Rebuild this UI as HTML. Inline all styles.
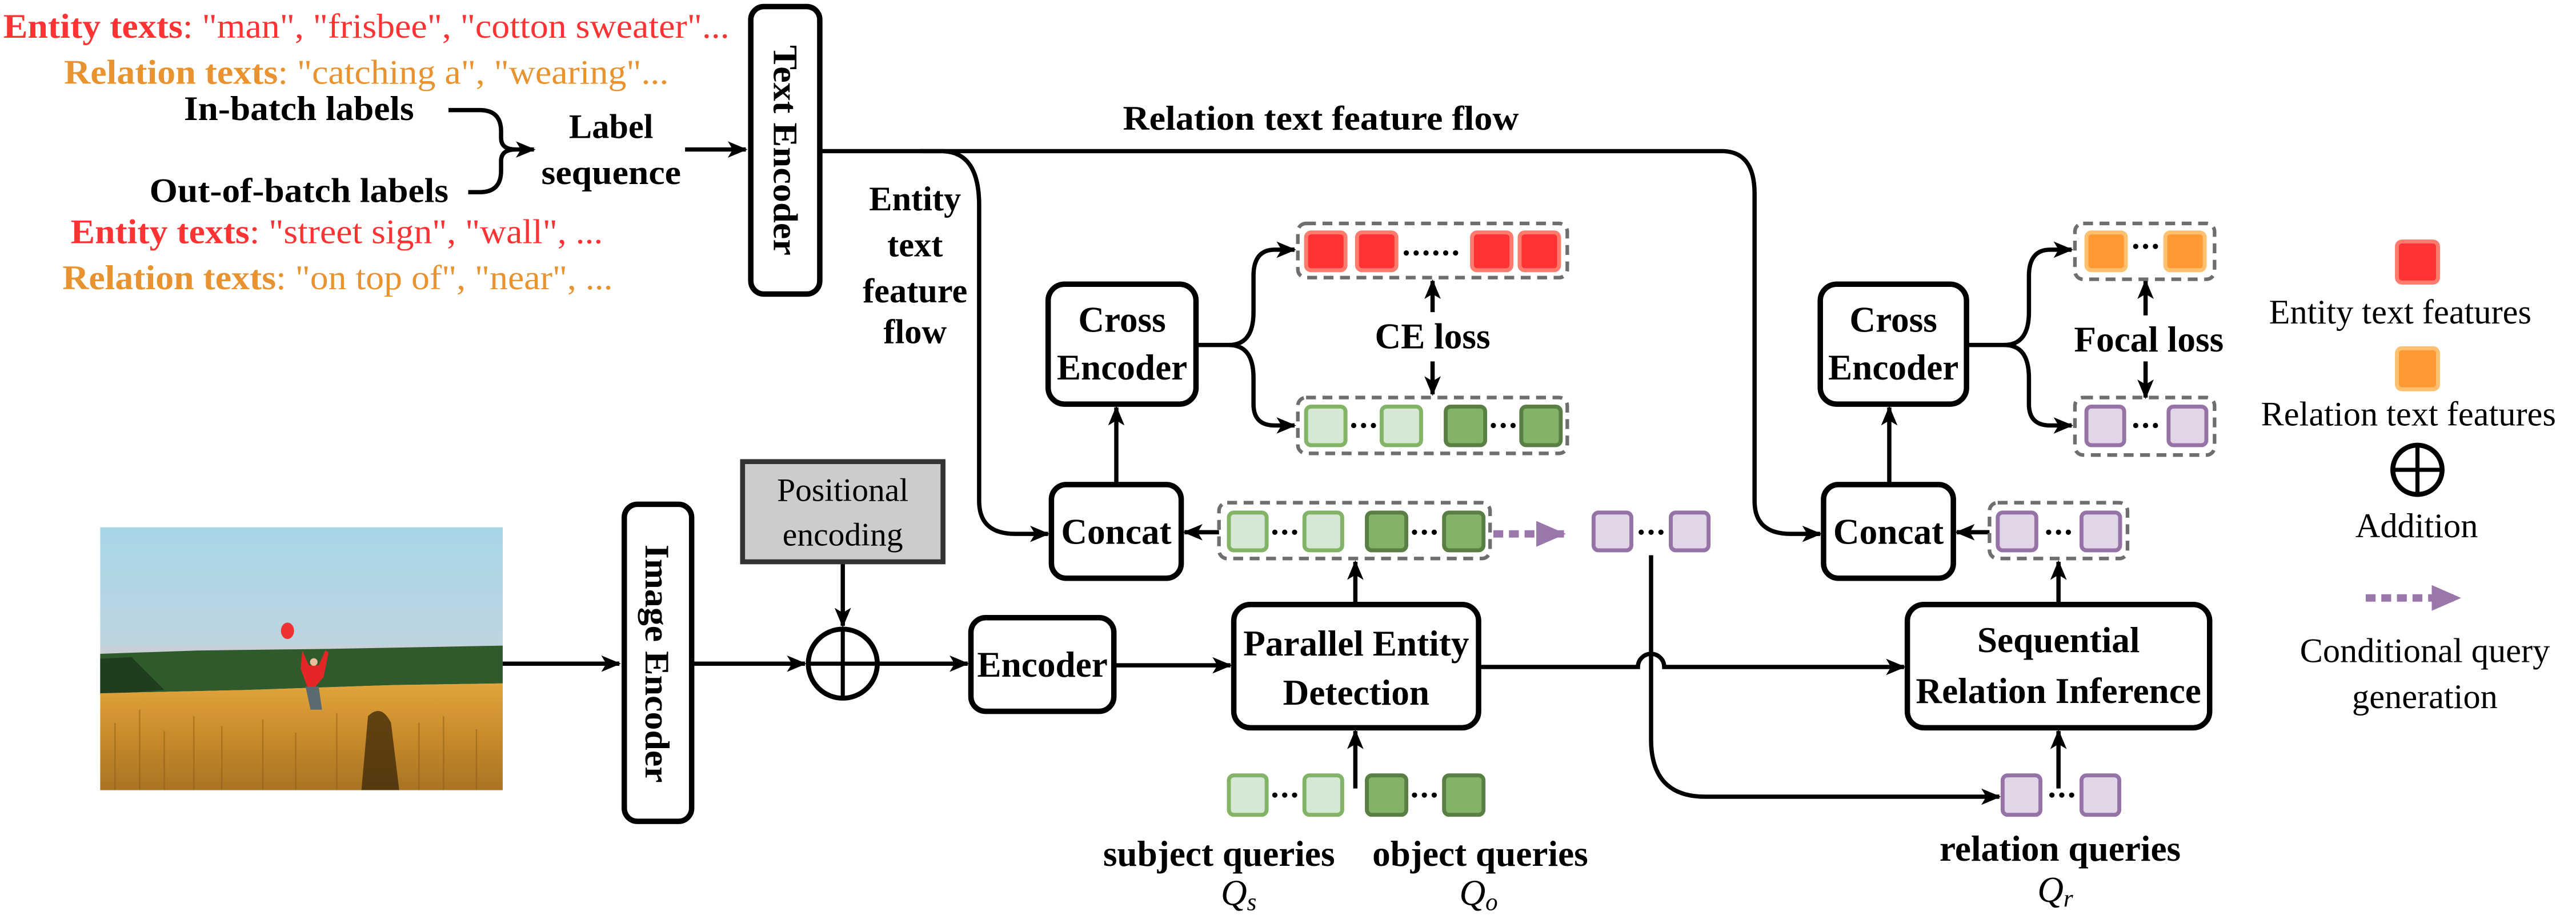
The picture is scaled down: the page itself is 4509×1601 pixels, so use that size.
<!DOCTYPE html>
<html><head><meta charset="utf-8"><style>
html,body{margin:0;padding:0;background:#fff;}
svg{display:block;}
svg, svg text{font-family:"Liberation Serif","Times New Roman","DejaVu Serif",serif;}
.b{font-weight:bold;}
</style></head><body>
<svg width="4509" height="1601" viewBox="0 0 1568 557" preserveAspectRatio="none" xmlns="http://www.w3.org/2000/svg" font-family="Liberation Serif, Times New Roman, serif">
<defs>
<marker id="ah" viewBox="0 0 12 10" refX="11" refY="5" markerWidth="12" markerHeight="10" markerUnits="userSpaceOnUse" orient="auto"><path d="M0,0 L12,5 L0,10 L3,5 Z" fill="#000"/></marker>
<marker id="ap" viewBox="0 0 16 14" refX="15" refY="7" markerWidth="18" markerHeight="16" markerUnits="userSpaceOnUse" orient="auto"><path d="M0,0 L16,7 L0,14 Z" fill="#9a77aa"/></marker>
<linearGradient id="sky" x1="0" y1="0" x2="0" y2="1"><stop offset="0" stop-color="#a6d6e8"/><stop offset="1" stop-color="#dcd3d3"/></linearGradient>
<linearGradient id="field" x1="0" y1="0" x2="0" y2="1"><stop offset="0" stop-color="#e2a43c"/><stop offset="0.5" stop-color="#c98a2a"/><stop offset="1" stop-color="#a87424"/></linearGradient>
</defs>

<text x="2" y="23" font-size="21" textLength="442" lengthAdjust="spacingAndGlyphs" fill="#ff3333"><tspan class="b">Entity texts</tspan>: "man", "frisbee", "cotton sweater"...</text>
<text x="39" y="51" font-size="21" textLength="368" lengthAdjust="spacingAndGlyphs" fill="#e8932f"><tspan class="b">Relation texts</tspan>: "catching a", "wearing"...</text>
<text x="112" y="73" font-size="21" class="b" textLength="140" lengthAdjust="spacingAndGlyphs">In-batch labels</text>
<text x="91" y="123" font-size="21" class="b" textLength="182" lengthAdjust="spacingAndGlyphs">Out-of-batch labels</text>
<text x="43" y="148" font-size="21" textLength="324" lengthAdjust="spacingAndGlyphs" fill="#ff3333"><tspan class="b">Entity texts</tspan>: "street sign", "wall", ...</text>
<text x="38" y="176" font-size="21" textLength="335" lengthAdjust="spacingAndGlyphs" fill="#e8932f"><tspan class="b">Relation texts</tspan>: "on top of", "near", ...</text>
<text x="372" y="84" font-size="21" class="b" text-anchor="middle">Label</text>
<text x="372" y="112" font-size="21" class="b" text-anchor="middle" textLength="85" lengthAdjust="spacingAndGlyphs">sequence</text>

<g fill="none" stroke="#000" stroke-width="2.6">
<path d="M273,67 H292 Q305,67 305,80 V84 Q305,91 314,91 H325" marker-end="url(#ah)"/>
<path d="M285,117 H292 Q305,117 305,104 V98 Q305,91 314,91"/>
<path d="M417,91 H454" marker-end="url(#ah)"/>
<path d="M499,92 H1048 Q1068,92 1068,118 V305 Q1068,325 1090,325 H1108" marker-end="url(#ah)"/>
<path d="M560,92 H573 Q596,92 596,125 V305 Q596,325 618,325 H638" marker-end="url(#ah)"/>
<path d="M306,404 H377" marker-end="url(#ah)"/>
<path d="M421,404 H490" marker-end="url(#ah)"/>
<path d="M513,343 V381" marker-end="url(#ah)"/>
<path d="M535,404 H589" marker-end="url(#ah)"/>
<path d="M678,405 H749" marker-end="url(#ah)"/>
<path d="M900,406 H997 A8,8 0 0 1 1013,406 H1159" marker-end="url(#ah)"/>
<path d="M825,368 V342" marker-end="url(#ah)"/>
<path d="M742,324 H721" marker-end="url(#ah)"/>
<path d="M679.5,295 V248" marker-end="url(#ah)"/>
<path d="M728,210 H748 Q763,210 763,190 V168 Q763,152 776,152 H788" marker-end="url(#ah)"/>
<path d="M748,210 Q763,210 763,230 V246 Q763,259 776,259 H788" marker-end="url(#ah)"/>
<path d="M872,190 V171" marker-end="url(#ah)"/>
<path d="M872,220 V240" marker-end="url(#ah)"/>
<path d="M825,480 V445" marker-end="url(#ah)"/>
<path d="M1005,338 V450 Q1005,485 1038,485 H1217" marker-end="url(#ah)"/>
<path d="M1253,368 V342" marker-end="url(#ah)"/>
<path d="M1211,324 H1191" marker-end="url(#ah)"/>
<path d="M1150,295 V248" marker-end="url(#ah)"/>
<path d="M1197,210 H1220 Q1235,210 1235,190 V168 Q1235,152 1248,152 H1261" marker-end="url(#ah)"/>
<path d="M1220,210 Q1235,210 1235,230 V246 Q1235,259 1248,259 H1261" marker-end="url(#ah)"/>
<path d="M1306,192 V171" marker-end="url(#ah)"/>
<path d="M1306,220 V242" marker-end="url(#ah)"/>
<path d="M1253,480 V445" marker-end="url(#ah)"/>
</g>
<text x="804" y="79" font-size="21" class="b" text-anchor="middle" textLength="241" lengthAdjust="spacingAndGlyphs">Relation text feature flow</text>
<g font-size="21" class="b" text-anchor="middle">
<text x="557" y="128">Entity</text><text x="557" y="156">text</text><text x="557" y="184">feature</text><text x="557" y="209">flow</text>
</g>

<g fill="#fff" stroke="#000" stroke-width="3.3">
<rect x="457" y="4" width="42" height="175" rx="8"/>
<rect x="380" y="307" width="41" height="193" rx="8"/>
<rect x="591" y="376" width="87" height="57" rx="9"/>
<rect x="751" y="368" width="149" height="75" rx="10"/>
<rect x="1161" y="368" width="184" height="75" rx="10"/>
<rect x="640" y="295" width="79" height="57" rx="9"/>
<rect x="1110" y="295" width="79" height="57" rx="9"/>
<rect x="638" y="173" width="90" height="73" rx="10"/>
<rect x="1108" y="173" width="89" height="73" rx="10"/>
</g>
<rect x="452" y="281" width="122" height="61" fill="#cccccc" stroke="#333" stroke-width="3"/>
<text x="513" y="305" font-size="20" text-anchor="middle">Positional</text>
<text x="513" y="332" font-size="20" text-anchor="middle">encoding</text>
<circle cx="513" cy="404" r="21" fill="#fff" stroke="#000" stroke-width="3"/>
<path d="M492,404 H534 M513,383 V425" stroke="#000" stroke-width="2.5"/>

<text transform="translate(471,91.5) rotate(90)" font-size="21" class="b" text-anchor="middle" textLength="128" lengthAdjust="spacingAndGlyphs">Text Encoder</text>
<text transform="translate(393,404) rotate(90)" font-size="21" class="b" text-anchor="middle" textLength="145" lengthAdjust="spacingAndGlyphs">Image Encoder</text>
<g font-size="22" class="b" text-anchor="middle">
<text x="634.5" y="412">Encoder</text>
<text x="825.5" y="399">Parallel Entity</text>
<text x="825.5" y="429">Detection</text>
<text x="1253" y="397">Sequential</text>
<text x="1253" y="428">Relation Inference</text>
<text x="679.5" y="331">Concat</text>
<text x="1149.5" y="331">Concat</text>
<text x="683" y="202">Cross</text>
<text x="683" y="231">Encoder</text>
<text x="1152.5" y="202">Cross</text>
<text x="1152.5" y="231">Encoder</text>
<text x="872" y="212">CE loss</text>
<text x="1308" y="214">Focal loss</text>
<text x="742" y="527">subject queries</text>
<text x="901" y="527">object queries</text>
<text x="1254" y="524">relation queries</text>
</g>
<g font-size="22" font-style="italic" text-anchor="middle">
<text x="754" y="551">Q<tspan font-size="15" dy="3">s</tspan></text>
<text x="900" y="551">Q<tspan font-size="15" dy="3">o</tspan></text>
<text x="1251" y="549">Q<tspan font-size="15" dy="3">r</tspan></text>
</g>

<g fill="none" stroke="#6e6e6e" stroke-width="2.2" stroke-dasharray="6,4">
<rect x="790" y="136" width="164" height="33" rx="5"/>
<rect x="790" y="242" width="164" height="34" rx="5"/>
<rect x="742" y="306" width="165" height="34" rx="5"/>
<rect x="1263" y="136" width="85" height="34" rx="5"/>
<rect x="1263" y="242" width="85" height="35" rx="5"/>
<rect x="1211" y="306" width="84" height="34" rx="5"/>
</g>

<g stroke-width="2.4">
<g fill="#ff3333" stroke="#ff7b6e">
<rect x="795" y="141.5" width="24" height="23" rx="3"/><rect x="826" y="141.5" width="24" height="23" rx="3"/>
<rect x="896" y="141.5" width="24" height="23" rx="3"/><rect x="925" y="141.5" width="24" height="23" rx="3"/>
<rect x="1459" y="147" width="25" height="25" rx="3"/>
</g>
<g fill="#ff9933" stroke="#ffc070">
<rect x="1270" y="141.5" width="24" height="23" rx="3"/><rect x="1318" y="141.5" width="24" height="23" rx="3"/>
<rect x="1459" y="212" width="25" height="25" rx="3"/>
</g>
<g fill="#d5e8d4" stroke="#82b366">
<rect x="795" y="247.5" width="24" height="23.5" rx="3"/><rect x="841" y="247.5" width="24" height="23.5" rx="3"/>
<rect x="748" y="312" width="23" height="23" rx="3"/><rect x="794" y="312" width="23" height="23" rx="3"/>
<rect x="748" y="472" width="23" height="24" rx="3"/><rect x="794" y="472" width="23" height="24" rx="3"/>
</g>
<g fill="#82b366" stroke="#5a7f44">
<rect x="880" y="247.5" width="24" height="23.5" rx="3"/><rect x="926" y="247.5" width="24" height="23.5" rx="3"/>
<rect x="832" y="312" width="24" height="23" rx="3"/><rect x="879" y="312" width="24" height="23" rx="3"/>
<rect x="832" y="472" width="24" height="24" rx="3"/><rect x="879" y="472" width="24" height="24" rx="3"/>
</g>
<g fill="#e1d5e7" stroke="#9673a6">
<rect x="970" y="312" width="23" height="23" rx="3"/><rect x="1017" y="312" width="23" height="23" rx="3"/>
<rect x="1270" y="247.5" width="23" height="23.5" rx="3"/><rect x="1320" y="247.5" width="23" height="23.5" rx="3"/>
<rect x="1216" y="312" width="23.5" height="23" rx="3"/><rect x="1267" y="312" width="23.5" height="23" rx="3"/>
<rect x="1219" y="472" width="23" height="24" rx="3"/><rect x="1267" y="472" width="23" height="24" rx="3"/>
</g>
</g>
<g fill="#000">
<circle cx="856" cy="154" r="1.6"/><circle cx="862" cy="154" r="1.6"/><circle cx="868" cy="154" r="1.6"/><circle cx="874" cy="154" r="1.6"/><circle cx="880" cy="154" r="1.6"/><circle cx="886" cy="154" r="1.6"/>
<circle cx="824" cy="259" r="1.6"/><circle cx="830" cy="259" r="1.6"/><circle cx="836" cy="259" r="1.6"/>
<circle cx="909" cy="259" r="1.6"/><circle cx="915" cy="259" r="1.6"/><circle cx="921" cy="259" r="1.6"/>
<circle cx="776" cy="324" r="1.6"/><circle cx="782" cy="324" r="1.6"/><circle cx="788" cy="324" r="1.6"/>
<circle cx="861" cy="324" r="1.6"/><circle cx="867" cy="324" r="1.6"/><circle cx="873" cy="324" r="1.6"/>
<circle cx="776" cy="484" r="1.6"/><circle cx="782" cy="484" r="1.6"/><circle cx="788" cy="484" r="1.6"/>
<circle cx="861" cy="484" r="1.6"/><circle cx="867" cy="484" r="1.6"/><circle cx="873" cy="484" r="1.6"/>
<circle cx="999" cy="324" r="1.6"/><circle cx="1005" cy="324" r="1.6"/><circle cx="1011" cy="324" r="1.6"/>
<circle cx="1300" cy="150" r="1.6"/><circle cx="1306" cy="150" r="1.6"/><circle cx="1312" cy="150" r="1.6"/>
<circle cx="1300" cy="259" r="1.6"/><circle cx="1306" cy="259" r="1.6"/><circle cx="1312" cy="259" r="1.6"/>
<circle cx="1247" cy="324" r="1.6"/><circle cx="1253" cy="324" r="1.6"/><circle cx="1259" cy="324" r="1.6"/>
<circle cx="1249" cy="484" r="1.6"/><circle cx="1255" cy="484" r="1.6"/><circle cx="1261" cy="484" r="1.6"/>
</g>
<path d="M909,325 H952" stroke="#9a77aa" stroke-width="4.5" stroke-dasharray="6,3.5" fill="none" marker-end="url(#ap)"/>
<path d="M1440,364 H1497" stroke="#9a77aa" stroke-width="4.5" stroke-dasharray="6,3.5" fill="none" marker-end="url(#ap)"/>

<g font-size="21" text-anchor="middle">
<text x="1461" y="197">Entity text features</text>
<text x="1466" y="259">Relation text features</text>
<text x="1471" y="327">Addition</text>
<text x="1476" y="403">Conditional query</text>
<text x="1476" y="431">generation</text>
</g>
<circle cx="1471.5" cy="286" r="15" fill="none" stroke="#000" stroke-width="3"/>
<path d="M1456.5,286 H1486.5 M1471.5,271 V301" stroke="#000" stroke-width="2.5"/>

<g>
<rect x="61" y="321" width="245" height="160" fill="url(#sky)"/>
<rect x="61" y="393" width="245" height="5" fill="#c8cfd6"/>
<path d="M61,398 L120,396 L200,395 L306,393 V416 L240,417 L150,420 L61,422 Z" fill="#2f5a2c"/>
<path d="M61,401 L80,400 L100,420 L61,423 Z" fill="#1f3d1f"/>
<path d="M61,422 L150,420 L240,417 L306,416 V481 H61 Z" fill="url(#field)"/>
<g stroke="#8a5a18" stroke-width="0.8" opacity="0.5">
<path d="M70,481 V440 M85,481 V432 M100,481 V445 M118,481 V436 M135,481 V442 M160,481 V438 M180,481 V446 M205,481 V434 M255,481 V440 M270,481 V436 M290,481 V444"/>
</g>
<ellipse cx="175" cy="384" rx="4" ry="5" fill="#ee3333"/>
<path d="M184,396 L188,405 L194,405 L198,396 L200,397 L197,412 L192,418 L187,418 L183,407 Z" fill="#e52626"/>
<circle cx="191" cy="403" r="2.3" fill="#e8c0a0"/>
<path d="M186,418 L194,418 L196,432 L189,432 Z" fill="#5a6a70"/>
<path d="M224,436 Q232,428 238,440 L243,481 H220 Z" fill="#3a2608" opacity="0.75"/>
</g>
</svg>
</body></html>
